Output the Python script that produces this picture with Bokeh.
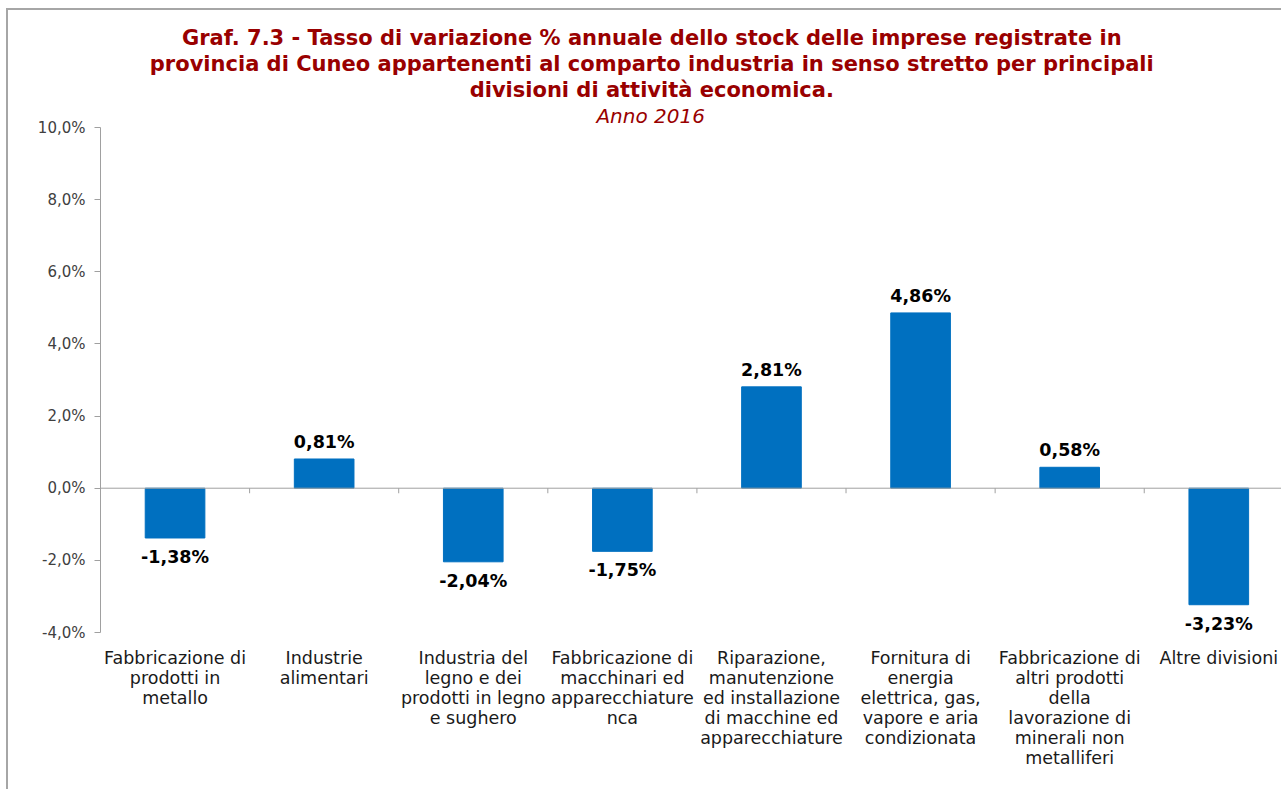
from bokeh.plotting import figure
from bokeh.models import ColumnDataSource, FixedTicker, Span, Title, Range1d
from bokeh.core.properties import value
from bokeh.embed import file_html
from bokeh.resources import INLINE

categories = [
    "Fabbricazione di\nprodotti in\nmetallo",
    "Industrie\nalimentari",
    "Industria del\nlegno e dei\nprodotti in legno\ne sughero",
    "Fabbricazione di\nmacchinari ed\napparecchiature\nnca",
    "Riparazione,\nmanutenzione\ned installazione\ndi macchine ed\napparecchiature",
    "Fornitura di\nenergia\nelettrica, gas,\nvapore e aria\ncondizionata",
    "Fabbricazione di\naltri prodotti\ndella\nlavorazione di\nminerali non\nmetalliferi",
    "Altre divisioni",
]
values = [-1.38, 0.81, -2.04, -1.75, 2.81, 4.86, 0.58, -3.23]
y_ticks = [-4, -2, 0, 2, 4, 6, 8, 10]
y_tick_labels = ["-4,0%", "-2,0%", "0,0%", "2,0%", "4,0%", "6,0%", "8,0%", "10,0%"]
title_lines = [
    "Graf. 7.3 - Tasso di variazione % annuale dello stock delle imprese registrate in",
    "provincia di Cuneo appartenenti al comparto industria in senso stretto per principali",
    "divisioni di attività economica.",
]
subtitle = "Anno 2016"

BLUE = "#0070C0"
RED = "#990000"
FONT = "DejaVu Sans"
NBSP = "\u00a0"

W, H = 1275, 781
x_pos = [i + 0.5 for i in range(len(categories))]
labels = [("%.2f" % v).replace(".", ",") + "%" for v in values]
baselines = ["bottom" if v >= 0 else "top" for v in values]
offsets = [-7 if v >= 0 else 9 for v in values]

src = ColumnDataSource(dict(x=x_pos, top=values, label=labels, base=baselines, off=offsets))

p = figure(width=W, height=H, output_backend="svg", toolbar_location=None,
           x_range=Range1d(0, 7.934), y_range=Range1d(-4, 10),
           min_border_left=92, min_border_right=0, min_border_top=117, min_border_bottom=159)
p.styles = {"border-left": "2px solid #a6a6a6", "border-top": "2px solid #a6a6a6",
            "margin-left": "6px", "margin-top": "8px"}
p.outline_line_color = None
p.grid.visible = False
p.background_fill_color = "white"
p.border_fill_color = "white"

p.vbar(x="x", top="top", bottom=0, width=0.4, source=src, fill_color=BLUE, line_color=BLUE)

p.add_layout(Span(location=0, dimension="width", line_color="#a0a0a0", line_width=1))
p.segment(x0=list(range(1, len(categories) + 1)), x1=list(range(1, len(categories) + 1)),
          y0=0, y1=-0.14, line_color="#a0a0a0", line_width=1)

p.text(x="x", y="top", text="label", source=src, text_align="center",
       text_baseline="base", y_offset="off", text_font=value(FONT),
       text_font_style="bold", text_font_size="17.5px", text_color="#000000")

# y axis
ya = p.yaxis[0]
ya.ticker = FixedTicker(ticks=y_ticks)
ya.major_label_overrides = {t: l for t, l in zip(y_ticks, y_tick_labels)}
ya.axis_line_color = "#a0a0a0"
ya.major_tick_line_color = "#a0a0a0"
ya.major_tick_out = 6
ya.major_tick_in = 0
ya.minor_tick_line_color = None
ya.major_label_standoff = 9
ya.major_label_text_font = FONT
ya.major_label_text_font_size = "15px"
ya.major_label_text_color = "#404040"

# x axis
xa = p.xaxis[0]
xa.ticker = FixedTicker(ticks=x_pos)
xa.major_label_overrides = {x: c for x, c in zip(x_pos, categories)}
xa.axis_line_color = None
xa.major_tick_line_color = None
xa.minor_tick_line_color = None
xa.major_tick_out = 0
xa.major_tick_in = 0
xa.major_label_standoff = 15
xa.major_label_text_font = FONT
xa.major_label_text_font_size = "17.5px"
xa.major_label_text_color = "#1a1a1a"
xa.major_label_text_line_height = 1.0

# titles: p.title is outermost; added titles stack outward from the frame
def style_title(t, bold=True, size="21px", pad=11):
    t.align = "center"
    t.standoff = 0
    t.text_font = FONT
    t.text_font_style = "bold" if bold else "italic"
    t.text_font_size = size
    t.text_color = RED

p.title.text = title_lines[0] + NBSP * 11
style_title(p.title)
sub = Title(text=subtitle + NBSP * 13)
style_title(sub, bold=False, size="20px")
p.add_layout(sub, "above")
for line in reversed(title_lines[1:]):
    t = Title(text=line + NBSP * 11)
    style_title(t)
    p.add_layout(t, "above")

open("out.html", "w").write(file_html(p, INLINE))
